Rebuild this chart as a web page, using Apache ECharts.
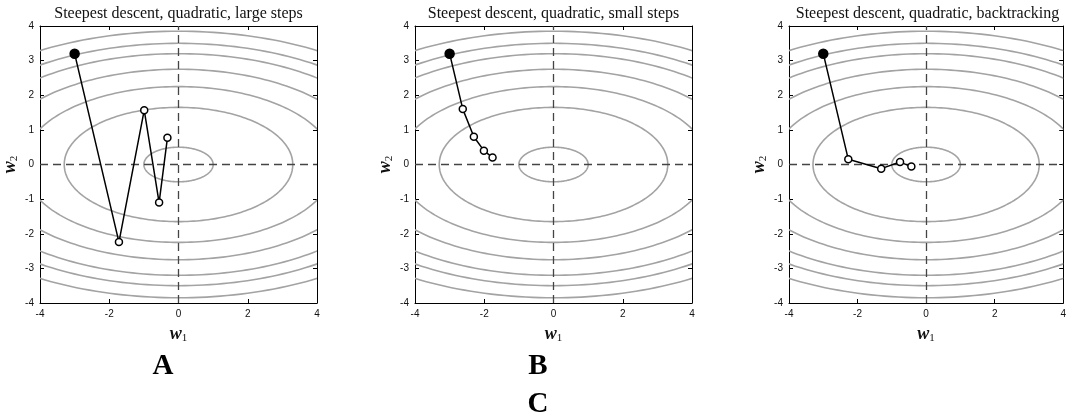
<!DOCTYPE html>
<html>
<head>
<meta charset="utf-8">
<script src="https://cdn.jsdelivr.net/npm/echarts@6/dist/echarts.min.js"></script>
<style>
  html, body { margin: 0; padding: 0; background: #fff; }
  #chart { width: 1069px; height: 419px; }
</style>
</head>
<body>
<div id="chart"></div>
<script>
// panel titles and letters
const titles = [
  'Steepest descent, quadratic, large steps',
  'Steepest descent, quadratic, small steps',
  'Steepest descent, quadratic, backtracking'
];
const letters = ['A', 'B', 'C'];

// contour ellipses: semi-axis along w2, the w1 semi-axis is twice as long
const contourB = [0.5, 1.65, 2.25, 2.75, 3.2, 3.5, 3.85];
const contourRatio = 2;

// descent paths (w1, w2), first point is the start
const pathLarge = [[-3, 3.2], [-1.72, -2.24], [-0.99, 1.57], [-0.56, -1.1], [-0.32, 0.77]];
const pathSmall = [[-3, 3.2], [-2.62, 1.6], [-2.3, 0.8], [-2.01, 0.4], [-1.76, 0.2]];
const pathBack = [[-3, 3.2], [-2.27, 0.15], [-1.31, -0.12], [-0.76, 0.07], [-0.43, -0.06]];
const paths = [pathLarge, pathSmall, pathBack];

const panelLeft = [40, 415, 789];
const panelTop = 26;
const panelSize = 277;

let chart = echarts.init(document.getElementById('chart'));

let grids = [], xAxes = [], yAxes = [], series = [], graphics = [];

function axisName(sub) {
  return '{w|w}{s|' + sub + '}';
}
const nameRich = {
  w: { fontFamily: 'Liberation Serif', fontStyle: 'italic', fontWeight: 'bold', fontSize: 18, color: '#111' },
  s: { fontFamily: 'Liberation Serif', fontSize: 11, color: '#111', padding: [8, 0, 0, 0] }
};

function renderEllipse(params, api) {
  let b = api.value(1);
  let a = api.value(0);
  let pts = [];
  for (let i = 0; i <= 240; i++) {
    let t = i / 240 * Math.PI * 2;
    pts.push(api.coord([a * Math.cos(t), b * Math.sin(t)]));
  }
  let cs = params.coordSys;
  return {
    type: 'polyline',
    shape: { points: pts },
    style: { stroke: '#a3a3a3', lineWidth: 1.6, fill: null },
    clipPath: { type: 'rect', shape: { x: cs.x, y: cs.y, width: cs.width, height: cs.height } }
  };
}

paths.forEach((path, i) => {
  grids.push({ left: panelLeft[i], top: panelTop, width: panelSize, height: panelSize });

  const axisCommon = {
    type: 'value', min: -4, max: 4, gridIndex: i,
    axisLine: { show: true, onZero: false, lineStyle: { color: '#000', width: 1 } },
    axisTick: { show: true, inside: true, length: 4, lineStyle: { color: '#000' } },
    splitLine: { show: false }
  };
  xAxes.push(Object.assign({}, axisCommon, {
    position: 'bottom', interval: 2,
    axisLabel: { margin: 6, fontFamily: 'Liberation Sans', fontSize: 10, color: '#111' },
    name: axisName('1'), nameLocation: 'middle', nameGap: 22,
    nameTextStyle: { rich: nameRich }
  }));
  xAxes.push(Object.assign({}, axisCommon, {
    position: 'top', interval: 2, axisLabel: { show: false }
  }));
  yAxes.push(Object.assign({}, axisCommon, {
    position: 'left', interval: 1,
    axisLabel: { margin: 6, fontFamily: 'Liberation Sans', fontSize: 10, color: '#111' },
    name: axisName('2'), nameLocation: 'middle', nameGap: 20, nameRotate: 90,
    nameTextStyle: { rich: nameRich }
  }));
  yAxes.push(Object.assign({}, axisCommon, {
    position: 'right', interval: 1, axisLabel: { show: false }
  }));

  series.push({
    type: 'custom',
    xAxisIndex: i * 2, yAxisIndex: i * 2,
    renderItem: renderEllipse,
    data: contourB.map(b => [b * contourRatio, b]),
    silent: true,
    z: 1
  });

  series.push({
    type: 'line',
    xAxisIndex: i * 2, yAxisIndex: i * 2,
    data: path.map((p, k) => k === 0
      ? { value: p, symbolSize: 9, itemStyle: { color: '#000' } }
      : { value: p }),
    symbol: 'circle',
    symbolSize: 7,
    showAllSymbol: true,
    lineStyle: { color: '#000', width: 1.5 },
    itemStyle: { color: '#fff', borderColor: '#000', borderWidth: 1.5 },
    z: 5,
    markLine: {
      silent: true,
      symbol: 'none',
      label: { show: false },
      lineStyle: { color: '#444', width: 1.3, type: [8, 5] },
      data: [{ xAxis: 0 }, { yAxis: 0 }],
      z: 3
    }
  });

  graphics.push({
    type: 'text',
    x: panelLeft[i] + panelSize / 2, y: 14,
    style: {
      text: titles[i], align: 'center', verticalAlign: 'middle',
      font: '16px "Liberation Serif"', fill: '#111'
    }
  });
});

// panel letters
const letterPos = [[163, 367], [538, 367], [538, 405]];
letters.forEach((t, i) => {
  graphics.push({
    type: 'text', x: letterPos[i][0], y: letterPos[i][1],
    style: { text: t, align: 'center', verticalAlign: 'middle', font: 'bold 29px "Liberation Serif"', fill: '#000' }
  });
});

chart.setOption({
  animation: false,
  backgroundColor: '#fff',
  grid: grids,
  xAxis: xAxes,
  yAxis: yAxes,
  series: series,
  graphic: graphics
});
</script>
</body>
</html>
